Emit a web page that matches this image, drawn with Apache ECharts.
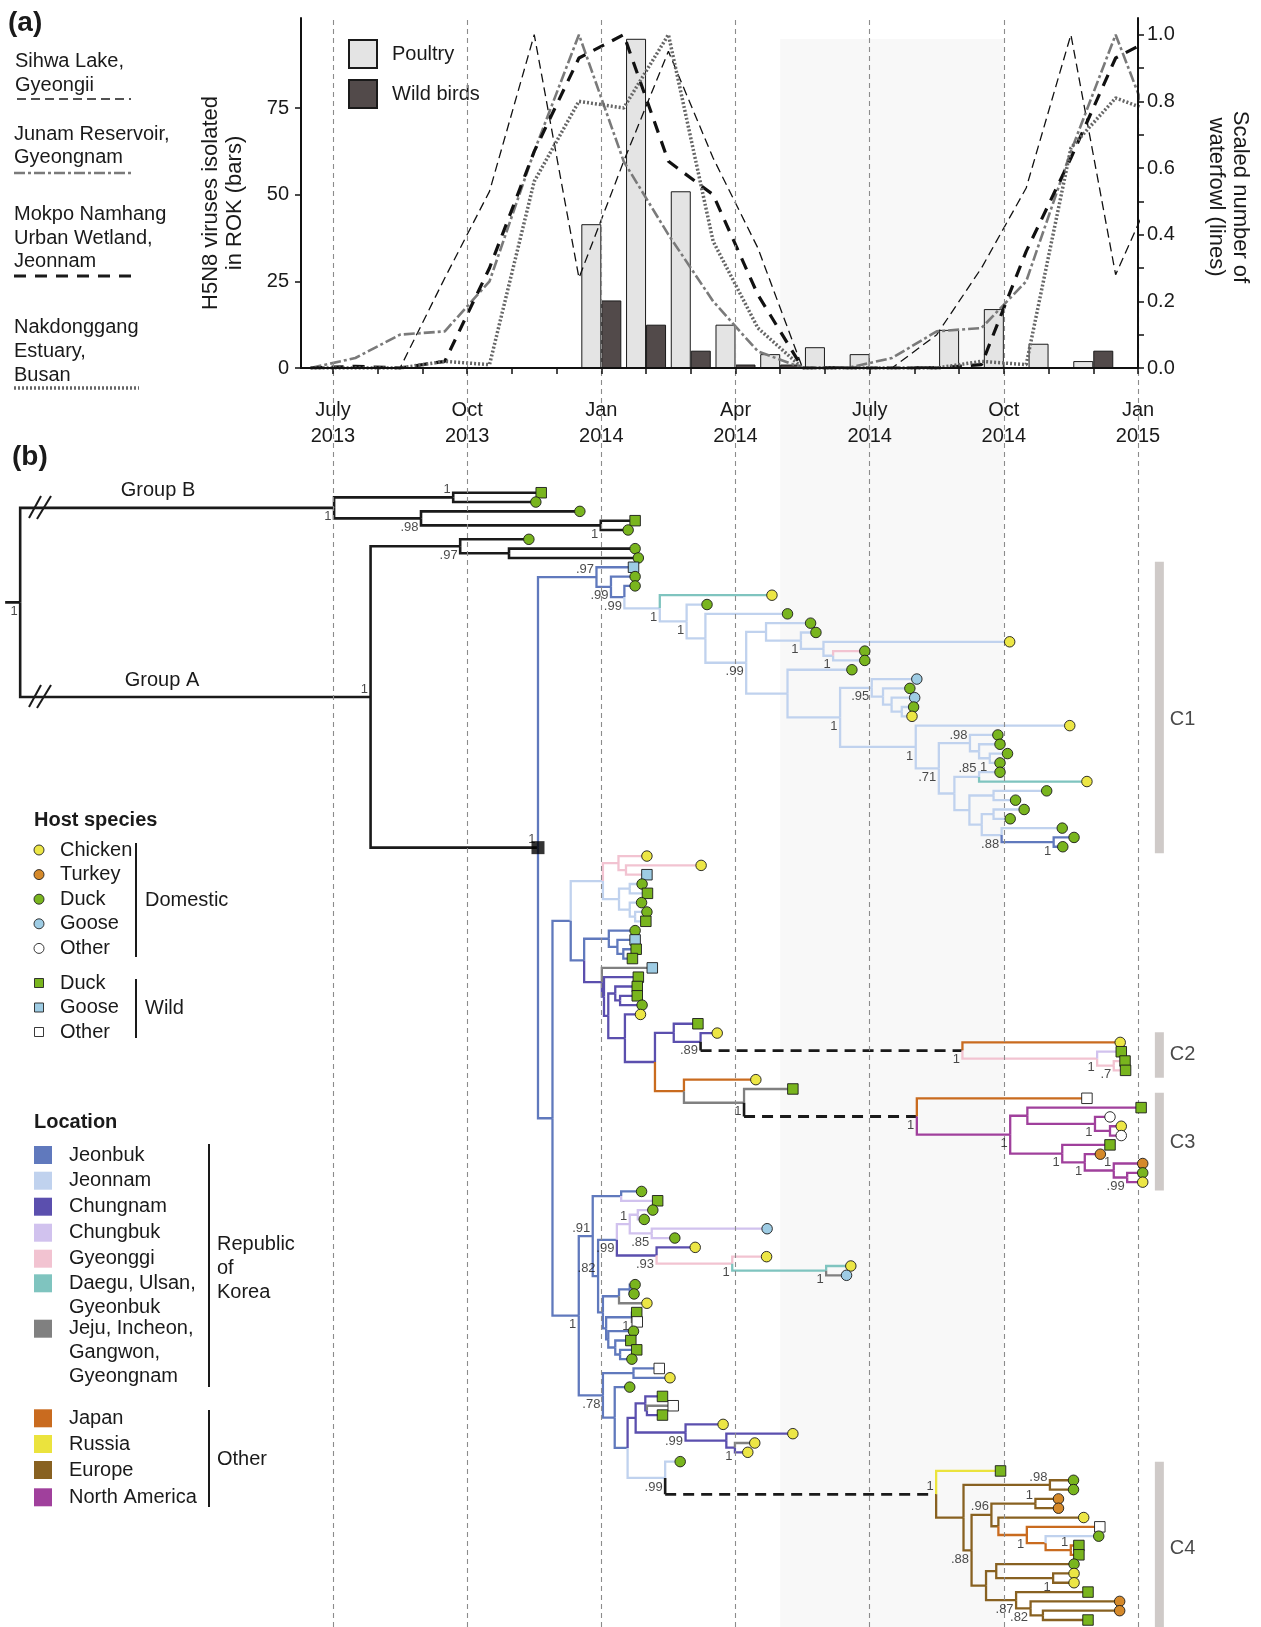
<!DOCTYPE html>
<html><head><meta charset="utf-8">
<script src="https://cdn.jsdelivr.net/npm/echarts@6/dist/echarts.min.js"></script>
<style>html,body{margin:0;padding:0;background:#fff}#c{width:1261px;height:1627px}</style>
</head><body><div id="c"></div>
<script>
// ---------------- DATA: panel (a) ----------------
const axisTickDates = [2013.5, 2013.75, 2014.0, 2014.25, 2014.5, 2014.75, 2015.0];
const axisTickLabels = ['July\n2013', 'Oct\n2013', 'Jan\n2014', 'Apr\n2014', 'July\n2014', 'Oct\n2014', 'Jan\n2015'];
const barMonths = ['2014-01','2014-02','2014-03','2014-04','2014-05','2014-06','2014-07','2014-08','2014-09','2014-10','2014-11','2014-12'];
const poultry = [41.5, 95, 51, 12.5, 4, 6, 4, 0, 11, 17, 7, 2];
const wildBirds = [19.5, 12.5, 5, 1, 1, 0.5, 0, 0.5, 0, 0, 0, 5];
const lineMonths = ['2013-06','2013-07','2013-08','2013-09','2013-10','2013-11','2013-12','2014-01','2014-02','2014-03','2014-04','2014-05','2014-06','2014-07','2014-08','2014-09','2014-10','2014-11','2014-12','2015-01'];
const sihwa   = [0, 0, 0, 0.27, 0.53, 1.0, 0.27, 0.62, 0.95, 0.63, 0.36, 0, 0, 0, 0.1, 0.3, 0.54, 1.0, 0.28, 0.58];
const junam   = [0, 0.03, 0.1, 0.11, 0.26, 0.65, 1.0, 0.62, 0.4, 0.2, 0.05, 0, 0, 0.03, 0.11, 0.12, 0.26, 0.65, 1.0, 0.65];
const mokpo   = [0, 0.005, 0, 0.02, 0.3, 0.65, 0.93, 1.0, 0.62, 0.52, 0.22, 0, 0, 0, 0, 0.01, 0.35, 0.63, 0.93, 1.0];
const nakdong = [0, 0, 0, 0.02, 0.01, 0.56, 0.8, 0.78, 1.0, 0.38, 0.12, 0, 0, 0, 0, 0.02, 0.01, 0.66, 0.81, 0.76];
const shadeMonths = ['2014-05', '2014-10'];

// ---------------- DATA: panel (b) tree ----------------
// tips in row order: [sampling date (decimal year), location, host]
const tips = [
 [2013.888,'K','wD'],[2013.878,'K','dD'],[2013.960,'K','dD'],[2014.063,'K','wD'],[2014.050,'K','dD'],
 [2013.865,'K','dD'],[2014.063,'K','dD'],[2014.069,'K','dD'],[2014.060,'JB','wG'],[2014.063,'JB','dD'],
 [2014.063,'JB','dD'],[2014.318,'DG','dC'],[2014.197,'JN','dD'],[2014.347,'JN','dD'],[2014.390,'JN','dD'],
 [2014.400,'JN','dD'],[2014.761,'JN','dC'],[2014.491,'GG','dD'],[2014.491,'JN','dD'],[2014.467,'JN','dD'],
 [2014.588,'JN','dG'],[2014.575,'JN','dD'],[2014.584,'JN','dG'],[2014.582,'JN','dD'],[2014.579,'JN','dC'],
 [2014.873,'JN','dC'],[2014.739,'JN','dD'],[2014.743,'JN','dD'],[2014.757,'JN','dD'],[2014.743,'JN','dD'],
 [2014.743,'JN','dD'],[2014.905,'DG','dC'],[2014.830,'JN','dD'],[2014.772,'JN','dD'],[2014.788,'JN','dD'],
 [2014.762,'JN','dD'],[2014.859,'JN','dD'],[2014.881,'JB','dD'],[2014.860,'JB','dD'],[2014.085,'GG','dC'],
 [2014.186,'GG','dC'],[2014.085,'GG','wG'],[2014.076,'JN','dD'],[2014.086,'JN','wD'],[2014.075,'JN','dD'],
 [2014.085,'JN','dD'],[2014.083,'JN','wD'],[2014.063,'JB','dD'],[2014.063,'JB','wG'],[2014.065,'JB','wD'],
 [2014.058,'JB','wD'],[2014.095,'GR','wG'],[2014.069,'CN','wD'],[2014.067,'CN','wD'],[2014.067,'CN','wD'],
 [2014.076,'CN','dD'],[2014.073,'CN','dC'],[2014.180,'CN','wD'],[2014.216,'CN','dC'],[2014.967,'JP','dC'],
 [2014.969,'CB','wD'],[2014.976,'GG','wD'],[2014.977,'GG','wD'],[2014.288,'JP','dC'],[2014.357,'GR','wD'],
 [2014.905,'JP','wO'],[2015.006,'NA','wD'],[2014.948,'NA','dO'],[2014.969,'NA','dC'],[2014.969,'NA','dO'],
 [2014.948,'NA','wD'],[2014.930,'NA','dT'],[2015.009,'NA','dT'],[2015.009,'NA','dD'],[2015.009,'NA','dC'],
 [2014.075,'JB','dD'],[2014.105,'CB','wD'],[2014.096,'CB','dD'],[2014.080,'CB','dD'],[2014.309,'CB','dG'],
 [2014.137,'CB','dD'],[2014.175,'CN','dC'],[2014.308,'GG','dC'],[2014.465,'DG','dC'],[2014.457,'GR','dG'],
 [2014.063,'JB','dD'],[2014.061,'JB','dD'],[2014.085,'GR','dC'],[2014.066,'JB','wD'],[2014.067,'GR','wO'],
 [2014.060,'JB','dD'],[2014.055,'JB','wD'],[2014.066,'JB','wD'],[2014.057,'JB','dD'],[2014.108,'JB','wO'],
 [2014.128,'JB','dC'],[2014.053,'JB','dD'],[2014.114,'CN','wD'],[2014.134,'GR','wO'],[2014.114,'CN','wD'],
 [2014.227,'CN','dC'],[2014.357,'CN','dC'],[2014.286,'GR','dC'],[2014.273,'CN','dC'],[2014.147,'JN','dD'],
 [2014.744,'RU','wD'],[2014.880,'EU','dD'],[2014.880,'EU','dD'],[2014.852,'EU','dT'],[2014.852,'EU','dT'],
 [2014.899,'EU','dC'],[2014.929,'JP','wO'],[2014.927,'JN','dD'],[2014.890,'JP','wD'],[2014.890,'JP','wD'],
 [2014.881,'EU','dD'],[2014.881,'EU','dC'],[2014.881,'EU','dC'],[2014.907,'EU','wD'],[2014.966,'EU','dT'],
 [2014.966,'EU','dT'],[2014.907,'EU','wD']
];
// internal nodes: [name, date, location of incoming branch, posterior support, label side, children]
const treeNodes = [
 ['root',2012.917,'K','1','b',['GB','GA']],
 ['GB',2013.502,'K','1','b',['gb1','gb2']],
 ['gb1',2013.724,'K','1','a',[0,1]],
 ['gb2',2013.664,'K','.98','b',[2,'gb3']],
 ['gb3',2013.999,'K','1','b',[3,4]],
 ['GA',2013.570,'K','1','a',['ga1','JBr']],
 ['ga1',2013.737,'K','.97','b',[5,'ga2']],
 ['ga2',2013.828,'K','','',[6,7]],
 ['JBr',2013.882,'K','1','a',['c97','m0']],
 ['c97',2013.991,'JB','.97','a',[8,'c99a']],
 ['c99a',2014.018,'JB','.99','b',[9,'c99b']],
 ['c99b',2014.043,'JB','.99','b',[10,'C1']],
 ['C1',2014.109,'JN','1','b',[11,'a2']],
 ['a2',2014.159,'JN','1','b',[12,'a3']],
 ['a3',2014.194,'JN','','',[13,'a4']],
 ['a4',2014.270,'JN','.99','b',['a5','a9']],
 ['a5',2014.307,'JN','','',[14,'a6']],
 ['a6',2014.372,'JN','1','b',[15,'a7']],
 ['a7',2014.414,'JN','','',[16,'a8']],
 ['a8',2014.432,'JN','1','b',[17,18]],
 ['a9',2014.347,'JN','','',[19,'a10']],
 ['a10',2014.445,'JN','1','b',['a11','a15']],
 ['a11',2014.504,'JN','.95','b',[20,'a12']],
 ['a12',2014.525,'JN','','',[21,'a13']],
 ['a13',2014.541,'JN','','',[22,'a14']],
 ['a14',2014.560,'JN','','',[23,24]],
 ['a15',2014.586,'JN','1','b',[25,'a16']],
 ['a16',2014.629,'JN','.71','b',['a17','a21']],
 ['a17',2014.687,'JN','.98','a',[26,'a18']],
 ['a18',2014.704,'JN','','',[27,'a19']],
 ['a19',2014.724,'JN','1','b',[28,29]],
 ['a21',2014.658,'JN','','',['a22','a23']],
 ['a22',2014.704,'JN','.85','a',[30,31]],
 ['a23',2014.686,'JN','','',['a24','a25']],
 ['a24',2014.731,'JN','','',[32,33]],
 ['a25',2014.709,'JN','','',['a26','a27']],
 ['a26',2014.731,'JN','','',[34,35]],
 ['a27',2014.746,'JN','.88','b',[36,'a28']],
 ['a28',2014.843,'JB','1','b',[37,38]],
 ['m0',2013.909,'JB','','',['m1','L1']],
 ['m1',2013.943,'JB','','',['m2','m5']],
 ['m2',2014.003,'JN','','',['m3','m4']],
 ['m3',2014.032,'GG','','',[39,'m3b']],
 ['m3b',2014.046,'GG','','',[40,41]],
 ['m4',2014.033,'JN','','',['m4a','m4b']],
 ['m4a',2014.053,'JN','','',[42,43]],
 ['m4b',2014.053,'JN','','',[44,'m4c']],
 ['m4c',2014.063,'JN','','',[45,46]],
 ['m5',2013.968,'JB','','',['m6','m9']],
 ['m6',2014.014,'JB','','',[47,'m7']],
 ['m7',2014.030,'JB','','',[48,'m8']],
 ['m8',2014.041,'JB','','',[49,50]],
 ['m9',2014.001,'CN','','',[51,'p1']],
 ['p1',2014.005,'CN','','',[52,'p2']],
 ['p2',2014.013,'CN','','',['p3','p5']],
 ['p3',2014.026,'CN','','',[53,'p4']],
 ['p4',2014.035,'CN','','',[54,55]],
 ['p5',2014.044,'CN','','',[56,'p6']],
 ['p6',2014.100,'CN','','',['p7','j1']],
 ['p7',2014.135,'CN','','',[57,'p8']],
 ['p8',2014.185,'CN','.89','b',[58,'C2']],
 ['C2',2014.673,'KD','1','b',[59,'c2a']],
 ['c2a',2014.924,'GG','1','b',[60,'c2b']],
 ['c2b',2014.955,'GG','.7','b',[61,62]],
 ['j1',2014.154,'JP','','',[63,'j2']],
 ['j2',2014.266,'GR','1','b',[64,'C3']],
 ['C3',2014.588,'KD','1','b',[65,'n1']],
 ['n1',2014.762,'NA','1','b',['n2','n4']],
 ['n2',2014.794,'NA','','',[66,'n3']],
 ['n3',2014.920,'NA','1','b',[67,'n3b']],
 ['n3b',2014.948,'NA','','',[68,69]],
 ['n4',2014.859,'NA','1','b',[70,'n5']],
 ['n5',2014.901,'NA','1','b',[71,'n6']],
 ['n6',2014.955,'NA','1','a',[72,'n7']],
 ['n7',2014.980,'NA','.99','b',[73,74]],
 ['L1',2013.958,'JB','1','b',['L2','L20']],
 ['L2',2013.984,'JB','.91','a',['L3','L4']],
 ['L3',2014.037,'JB','','',[75,76]],
 ['L4',2013.994,'JB','.82','a',['L5','L12']],
 ['L5',2014.029,'JB','.99','b',['L6','L9']],
 ['L6',2014.053,'CB','1','a',['L7','L8']],
 ['L7',2014.068,'CB','','',[77,78]],
 ['L8',2014.094,'CB','.85','b',[79,80]],
 ['L9',2014.103,'CN','.93','b',[81,'L10']],
 ['L10',2014.244,'GG','1','b',[82,'L11']],
 ['L11',2014.419,'DG','1','b',[83,84]],
 ['L12',2014.003,'JB','','',['L13','L15']],
 ['L13',2014.033,'JB','','',['L14',87]],
 ['L14',2014.053,'JB','','',[85,86]],
 ['L15',2014.009,'JB','','',['L16','L17']],
 ['L16',2014.057,'JB','1','b',[88,89]],
 ['L17',2014.013,'JB','','',[90,'L18']],
 ['L18',2014.026,'JB','','',[91,'L19']],
 ['L19',2014.035,'JB','','',[92,93]],
 ['L20',2014.003,'JB','.78','b',['L21','L22']],
 ['L21',2014.060,'JB','','',[94,95]],
 ['L22',2014.025,'JB','','',[96,'L23']],
 ['L23',2014.049,'JB','','',['L24','L30']],
 ['L24',2014.064,'CN','','',['L25','L27']],
 ['L25',2014.082,'CN','','',[97,'L26']],
 ['L26',2014.085,'CN','','',[98,99]],
 ['L27',2014.157,'CN','.99','b',[100,'L28']],
 ['L28',2014.233,'CN','','',[101,'L29']],
 ['L29',2014.249,'CN','1','b',[102,103]],
 ['L30',2014.119,'JN','.99','b',[104,'C4']],
 ['C4',2014.624,'KD','1','a',[105,'e1']],
 ['e1',2014.675,'EU','','',['e2','e3']],
 ['e2',2014.836,'EU','.98','a',[106,107]],
 ['e3',2014.690,'EU','.88','b',['e4','e9']],
 ['e4',2014.727,'EU','.96','a',['e5','e6']],
 ['e5',2014.809,'EU','1','a',[108,109]],
 ['e6',2014.740,'EU','','',[110,'e7']],
 ['e7',2014.793,'JP','1','b',[111,'e8']],
 ['e8',2014.828,'JP','','',[112,'e8b']],
 ['e8b',2014.875,'JP','1','a',[113,114]],
 ['e9',2014.717,'EU','','',['e10','e11']],
 ['e10',2014.736,'EU','','',[115,'e10b']],
 ['e10b',2014.842,'EU','1','b',[116,117]],
 ['e11',2014.773,'EU','.87','b',[118,'e12']],
 ['e12',2014.800,'EU','.82','b',[119,'e13']],
 ['e13',2014.823,'EU','','',[120,121]]
];
const rootStubDate = 2012.889;
// clade bars: [name, first row, last row, label row]
const clades = [['C1', 7.4, 38.7, 24.3], ['C2', 57.9, 62.8, 60.35], ['C3', 64.4, 74.9, 69.7], ['C4', 104.0, 121.8, 113.3]];

// ---------------- STYLE ----------------
const FONT = 'Liberation Sans, Arial, sans-serif';
const LOC = {K:'#1a1a1a', JB:'#6079bd', JN:'#c0d2ee', CN:'#5b4fae', CB:'#d1c2ee', GG:'#f2c3d1',
  DG:'#7fc4bf', GR:'#808080', JP:'#c96b1f', RU:'#ebe33d', EU:'#886121', NA:'#a0409c'};
const HOST = {C:'#ece645', T:'#d5892a', D:'#79b51e', G:'#9ecce4', O:'#ffffff'};
const CLEAR = 'rgba(0,0,0,0)';
const toYear = s => { const p = s.split('-').map(Number); return p[0] + (p[1] - 1) / 12; };

// ---------------- TREE LAYOUT ----------------
const nodeMap = {};
treeNodes.forEach(n => { nodeMap[n[0]] = {name:n[0], date:n[1], loc:n[2], label:n[3], pos:n[4], kids:n[5]}; });
const yCache = {};
function nodeY(name) {
  if (yCache[name] !== undefined) return yCache[name];
  const ys = nodeMap[name].kids.map(k => typeof k === 'number' ? k : nodeY(k));
  return (yCache[name] = (ys[0] + ys[ys.length - 1]) / 2);
}
const branchData = [];
const rootY = nodeY('root');
branchData.push({coords:[[rootStubDate, rootY],[nodeMap.root.date, rootY]], lineStyle:{color:LOC.K, width:2.6}});
treeNodes.forEach(n => {
  const nd = nodeMap[n[0]], px = nd.date, py = nodeY(nd.name);
  nd.kids.forEach(k => {
    let cx, cy, loc;
    if (typeof k === 'number') { cx = tips[k][0]; cy = k; loc = tips[k][1]; }
    else { cx = nodeMap[k].date; cy = nodeY(k); loc = nodeMap[k].loc; }
    if (loc === 'KD') {
      branchData.push({coords:[[px, py],[px, cy]], lineStyle:{color:LOC.K, width:2.6}});
      branchData.push({coords:[[px, cy],[cx, cy]], lineStyle:{color:LOC.K, width:2.8, type:[11, 7]}});
    } else {
      const w = loc === 'K' ? 2.6 : 2.3;
      branchData.push({coords:[[px, py],[px, cy],[cx, cy]], lineStyle:{color:LOC[loc], width:w}});
    }
  });
});
const tipData = tips.map((t, r) => ({
  value:[t[0], r],
  symbol: t[2][0] === 'w' ? 'rect' : 'circle',
  itemStyle:{color: HOST[t[2][1]]}
}));
const supportData = treeNodes.filter(n => n[3]).map(n => ({
  value:[n[1], nodeY(n[0])], name:n[3],
  label:{offset:[0, n[4] === 'a' ? -8 : 9]}
}));
const cladeBarData = clades.map(c => ({coords:[[2015.04, c[1]],[2015.04, c[2]]]}));
const cladeLabelData = clades.map(c => ({value:[2015.04, c[3]], name:c[0]}));

// ---------------- AXES RANGES ----------------
const TREE_X = {min:2012.8794, max:2015.2294};
const monthTicks = []; for (let i = 0; i <= 18; i++) monthTicks.push(2013.5 + i / 12);

// ---------------- GRAPHIC (legends, annotations) ----------------
const g = [];
function T(x, y, text, o) { g.push({type:'text', x:x, y:y, silent:true, z:50, style:Object.assign({text:text, fill:'#1a1a1a', fontSize:20, fontFamily:FONT, verticalAlign:'middle', align:'left'}, o || {})}); }
function L(x1, y1, x2, y2, o) { g.push({type:'line', silent:true, z:50, shape:{x1:x1, y1:y1, x2:x2, y2:y2}, style:Object.assign({stroke:'#1a1a1a', lineWidth:2}, o || {})}); }
T(8, 23, '(a)', {fontSize:28, fontWeight:'bold'});
T(12, 457, '(b)', {fontSize:28, fontWeight:'bold'});
// line legend
T(15, 49, 'Sihwa Lake,\nGyeongii', {verticalAlign:'top', lineHeight:24});
L(17, 99, 131, 99, {lineWidth:1.3, lineDash:[9, 5]});
T(14, 123, 'Junam Reservoir,\nGyeongnam', {verticalAlign:'top', lineHeight:23});
L(14, 173, 133, 173, {stroke:'#7a7a7a', lineWidth:2.6, lineDash:[11, 3, 3, 3]});
T(14, 203, 'Mokpo Namhang\nUrban Wetland,\nJeonnam', {verticalAlign:'top', lineHeight:23.5});
L(14, 276, 135, 276, {lineWidth:3.2, lineDash:[12, 9]});
T(14, 315, 'Nakdonggang\nEstuary,\nBusan', {verticalAlign:'top', lineHeight:24});
L(14, 388, 139, 388, {stroke:'#666', lineWidth:3.5, lineDash:[2, 2]});
// axis titles
T(223, 203, 'H5N8 viruses isolated\nin ROK (bars)', {align:'center', lineHeight:24, fontSize:22});
g[g.length - 1].rotation = Math.PI / 2;
T(1228, 197, 'Scaled number of\nwaterfowl (lines)', {align:'center', lineHeight:24, fontSize:22});
g[g.length - 1].rotation = -Math.PI / 2;
// group labels and axis breaks
T(158, 490, 'Group B', {align:'center'});
T(162, 680, 'Group A', {align:'center'});
[508, 697].forEach(y => { L(29, y + 10, 41, y - 12, {lineWidth:2}); L(37, y + 11, 51, y - 12, {lineWidth:2}); });
// host legend
T(34, 820, 'Host species', {fontWeight:'bold'});
const domestic = [['Chicken','C'],['Turkey','T'],['Duck','D'],['Goose','G'],['Other','O']];
domestic.forEach((d, i) => {
  const y = 850 + i * 24.6;
  g.push({type:'circle', silent:true, z:50, shape:{cx:39, cy:y, r:5}, style:{fill:HOST[d[1]], stroke:'#222', lineWidth:0.9}});
  T(60, y, d[0]);
});
L(136, 843, 136, 957); T(145, 900, 'Domestic');
const wild = [['Duck','D'],['Goose','G'],['Other','O']];
wild.forEach((d, i) => {
  const y = 983 + i * 24.5;
  g.push({type:'rect', silent:true, z:50, shape:{x:34.5, y:y - 4.5, width:9, height:9}, style:{fill:HOST[d[1]], stroke:'#222', lineWidth:0.9}});
  T(60, y, d[0]);
});
L(136, 979, 136, 1038); T(145, 1008, 'Wild');
// location legend
T(34, 1122, 'Location', {fontWeight:'bold'});
const locLegend = [['JB',1155,'Jeonbuk'],['JN',1180.7,'Jeonnam'],['CN',1206.7,'Chungnam'],['CB',1232.7,'Chungbuk'],
  ['GG',1258.7,'Gyeonggi'],['DG',1283.3,'Daegu, Ulsan,\nGyeonbuk'],['GR',1328.7,'Jeju, Incheon,\nGangwon,\nGyeongnam'],
  ['JP',1418.3,'Japan'],['RU',1444,'Russia'],['EU',1470,'Europe'],['NA',1497.3,'North America']];
locLegend.forEach(d => {
  g.push({type:'rect', silent:true, z:50, shape:{x:34, y:d[1] - 9, width:18, height:18}, style:{fill:LOC[d[0]]}});
  T(69, d[1] - 12, d[2], {verticalAlign:'top', lineHeight:24});
});
L(209, 1144, 209, 1387); T(217, 1232, 'Republic\nof\nKorea', {verticalAlign:'top', lineHeight:24});
L(209, 1410, 209, 1507); T(217, 1459, 'Other');

// ---------------- OPTION ----------------
const chart = echarts.init(document.getElementById('c'), null, {renderer:'canvas'});
const axisTxt = {color:'#1a1a1a', fontSize:20, fontFamily:FONT};
const option = {
  animation:false,
  backgroundColor:'#ffffff',
  textStyle:{fontFamily:FONT},
  grid:[
    {left:301, right:123, top:18, height:350, outerBoundsMode:'none'},
    {left:0, right:0, top:39, bottom:0, outerBoundsMode:'none'},
    {left:0, right:0, top:17, bottom:0, outerBoundsMode:'none'},
    {left:0, right:0, top:440, bottom:0, outerBoundsMode:'none'}
  ],
  xAxis:[
    {gridIndex:0, type:'value', min:2013.4404, max:2015.0, z:10,
     axisLine:{show:true, lineStyle:{color:'#111', width:2}},
     axisTick:{show:true, length:6, customValues:monthTicks, lineStyle:{color:'#111', width:1.5}},
     axisLabel:Object.assign({customValues:axisTickDates, margin:29, lineHeight:26,
       formatter:v => { const i = axisTickDates.findIndex(d => Math.abs(d - v) < 1e-6); return i >= 0 ? axisTickLabels[i] : ''; }}, axisTxt),
     splitLine:{show:false}},
    {gridIndex:1, type:'value', min:TREE_X.min, max:TREE_X.max, show:false},
    {gridIndex:2, type:'value', min:TREE_X.min, max:TREE_X.max, show:false},
    {gridIndex:3, type:'value', min:TREE_X.min, max:TREE_X.max, show:false}
  ],
  yAxis:[
    {gridIndex:0, type:'value', min:0, max:101, position:'left', z:10,
     axisLine:{show:true, lineStyle:{color:'#111', width:2}},
     axisTick:{show:true, length:6, customValues:[0,25,50,75], lineStyle:{color:'#111', width:1.5}},
     axisLabel:Object.assign({customValues:[0,25,50,75], margin:12}, axisTxt),
     splitLine:{show:false}},
    {gridIndex:0, type:'value', min:0, max:1.05, position:'right', z:10,
     axisLine:{show:true, lineStyle:{color:'#111', width:2}},
     axisTick:{show:true, length:6, customValues:[0,0.1,0.2,0.3,0.4,0.5,0.6,0.7,0.8,0.9,1.0], lineStyle:{color:'#111', width:1.5}},
     axisLabel:Object.assign({customValues:[0,0.2,0.4,0.6,0.8,1.0], margin:9, formatter:v => v.toFixed(1)}, axisTxt),
     splitLine:{show:false}},
    {gridIndex:1, type:'value', min:0, max:1, show:false},
    {gridIndex:2, type:'value', min:0, max:1, show:false},
    {gridIndex:3, type:'value', min:-5.66, max:121.75, inverse:true, show:false}
  ],
  legend:{orient:'vertical', left:348, top:39, padding:0, itemWidth:28, itemHeight:28, itemGap:10, icon:'rect',
    data:['Poultry','Wild birds'], textStyle:{fontSize:20, color:'#1a1a1a', fontFamily:FONT, padding:[0,0,0,10]}},
  graphic:g,
  series:[
    {type:'scatter', name:'shade', xAxisIndex:1, yAxisIndex:2, z:0, silent:true, symbolSize:0, data:[[2014, 0.5]],
     markArea:{silent:true, itemStyle:{color:'#f8f8f8'}, data:[[{xAxis:toYear(shadeMonths[0])},{xAxis:toYear(shadeMonths[1])}]]}},
    {type:'scatter', name:'guides', xAxisIndex:2, yAxisIndex:3, z:1, silent:true, symbolSize:0, data:[[2014, 0.5]],
     markLine:{silent:true, symbol:['none','none'], label:{show:false},
       lineStyle:{color:'#8c8c8c', width:1.1, type:[5,4]}, data:axisTickDates.map(d => ({xAxis:d}))}},
    {type:'bar', name:'Poultry', xAxisIndex:0, yAxisIndex:0, z:3, barWidth:20, barGap:'0%',
     itemStyle:{color:'#e4e4e4', borderColor:'#1a1a1a', borderWidth:1},
     data:barMonths.map((m, i) => [toYear(m), poultry[i]])},
    {type:'bar', name:'Wild birds', xAxisIndex:0, yAxisIndex:0, z:3, barWidth:20, barGap:'0%',
     itemStyle:{color:'#524a4a', borderColor:'#1a1a1a', borderWidth:1},
     data:barMonths.map((m, i) => [toYear(m), wildBirds[i]])},
    {type:'line', name:'Sihwa Lake', xAxisIndex:0, yAxisIndex:1, z:4, symbol:'none', clip:true,
     lineStyle:{color:'#111', width:1.3, type:[9,5]}, data:lineMonths.map((m, i) => [toYear(m) + 1/24, sihwa[i]])},
    {type:'line', name:'Junam Reservoir', xAxisIndex:0, yAxisIndex:1, z:4, symbol:'none', clip:true,
     lineStyle:{color:'#7a7a7a', width:2.6, type:[11,3,3,3]}, data:lineMonths.map((m, i) => [toYear(m) + 1/24, junam[i]])},
    {type:'line', name:'Mokpo Namhang', xAxisIndex:0, yAxisIndex:1, z:4, symbol:'none', clip:true,
     lineStyle:{color:'#111', width:3.2, type:[12,9]}, data:lineMonths.map((m, i) => [toYear(m) + 1/24, mokpo[i]])},
    {type:'line', name:'Nakdonggang Estuary', xAxisIndex:0, yAxisIndex:1, z:4, symbol:'none', clip:true,
     lineStyle:{color:'#666', width:3.5, type:[2,2]}, data:lineMonths.map((m, i) => [toYear(m) + 1/24, nakdong[i]])},
    {type:'lines', name:'cladeBars', coordinateSystem:'cartesian2d', xAxisIndex:3, yAxisIndex:4, z:3, silent:true,
     polyline:true, lineStyle:{color:'#cfcac8', width:9, opacity:1}, data:cladeBarData},
    {type:'scatter', name:'cladeLabels', xAxisIndex:3, yAxisIndex:4, z:3, silent:true, symbolSize:1,
     itemStyle:{color:CLEAR}, label:{show:true, position:'right', distance:10, formatter:p => p.name, fontSize:20, color:'#1a1a1a', fontFamily:FONT},
     data:cladeLabelData},
    {type:'lines', name:'branches', coordinateSystem:'cartesian2d', xAxisIndex:3, yAxisIndex:4, z:4, silent:true,
     polyline:true, lineStyle:{width:2.3, opacity:1, join:'miter', cap:'butt'}, data:branchData},
    {type:'scatter', name:'support', xAxisIndex:3, yAxisIndex:4, z:5, silent:true, symbolSize:1,
     itemStyle:{color:CLEAR}, label:{show:true, position:'left', distance:2, formatter:p => p.name, fontSize:13, color:'#1a1a1a', fontFamily:FONT},
     data:supportData},
    {type:'scatter', name:'mrca', xAxisIndex:3, yAxisIndex:4, z:6, silent:true, symbol:'rect', symbolSize:13,
     itemStyle:{color:'#000'}, data:[[nodeMap.JBr.date, nodeY('JBr')]]},
    {type:'scatter', name:'tips', xAxisIndex:3, yAxisIndex:4, z:7, silent:true, symbolSize:10.5,
     itemStyle:{borderColor:'#1a1a1a', borderWidth:0.9, opacity:1}, data:tipData}
  ]
};
chart.setOption(option);
</script></body></html>
